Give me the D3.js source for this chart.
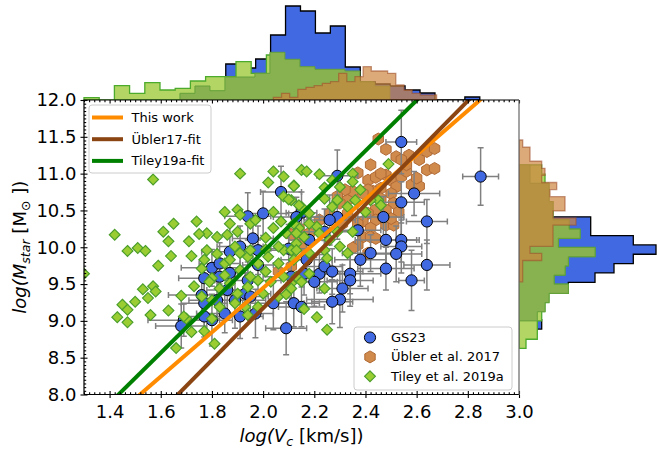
<!DOCTYPE html>
<html>
<head>
<meta charset="utf-8">
<script src="https://cdn.jsdelivr.net/npm/d3@7"></script>
<style>
body { margin: 0; background: #fff; }
text { font-family: "DejaVu Sans", sans-serif; fill: #000; }
</style>
</head>
<body>
<div id="chart"></div>
<script>

// ---- scatter data (log Vc, log Mstar) ----
const gsX = [2.07,2.00,2.15,1.94,1.80,1.77,1.83,1.87,1.91,1.96,1.98,1.76,1.77,1.82,1.86,1.89,1.93,1.95,1.91,1.85,1.80,1.69,1.68,1.77,1.97,2.04,1.98,2.09,2.12,2.15,2.11,1.87,1.94,1.83,
	2.54,2.29,2.85,2.59,2.54,2.48,2.54,2.54,2.52,2.64,2.64,2.48,2.58,2.34,2.34,2.31,2.30,2.27,2.22,2.20,2.16,2.24,2.27,2.38,2.47,2.42,2.37,2.29,2.26,2.18,2.24,2.13,2.10,2.17]
const gsY = [10.75,10.46,10.47,10.42,9.72,9.58,9.60,9.94,10.01,10.12,9.96,9.35,9.24,9.28,9.42,9.28,9.37,9.33,9.06,9.10,9.01,9.01,8.93,9.06,9.10,9.24,9.76,8.90,9.24,9.19,9.60,9.65,9.55,9.78,
	11.43,10.97,10.96,10.73,10.61,10.10,10.10,10.01,9.91,10.35,9.76,9.71,9.55,9.64,9.55,9.44,9.29,9.26,9.64,9.53,9.64,9.74,9.67,9.83,10.41,9.92,10.23,10.41,10.37,10.10,10.21,10.41,9.98,9.83]
const gsXErr = [0.08,0.10,0.06,0.09,0.12,0.10,0.07,0.11,0.09,0.08,0.10,0.13,0.09,0.11,0.08,0.12,0.10,0.07,0.09,0.11,0.08,0.14,0.10,0.09,0.07,0.12,0.06,0.08,0.10,0.09,0.11,0.07,0.13,0.08,
	0.06,0.08,0.07,0.10,0.09,0.12,0.07,0.08,0.10,0.08,0.09,0.11,0.05,0.12,0.09,0.10,0.13,0.08,0.11,0.09,0.10,0.07,0.12,0.10,0.08,0.11,0.09,0.13,0.10,0.08,0.12,0.09,0.07,0.10]
const gsYErr = [0.35,0.30,0.28,0.32,0.25,0.30,0.22,0.35,0.28,0.30,0.33,0.27,0.35,0.25,0.30,0.38,0.28,0.32,0.30,0.26,0.35,0.22,0.30,0.28,0.33,0.36,0.34,0.36,0.32,0.27,0.29,0.31,0.25,0.28,
	0.43,0.35,0.39,0.30,0.28,0.33,0.30,0.36,0.38,0.30,0.34,0.29,0.41,0.27,0.35,0.32,0.38,0.30,0.26,0.33,0.29,0.35,0.31,0.36,0.28,0.25,0.40,0.30,0.34,0.29,0.31,0.27,0.33,0.30]

const ublerX = [2.45,2.48,2.52,2.57,2.61,2.64,2.67,2.64,2.67,2.42,2.37,2.41,2.44,2.48,2.50,2.54,2.56,2.58,2.61,2.52,
	2.50,2.46,2.43,2.41,2.39,2.46,2.51,2.53,2.48,2.44,2.41,2.39,2.37,2.44,2.48,2.51,2.42,2.39,2.42,2.37,
	2.41,2.35,2.33,2.33,2.31,2.30,2.26,2.22,2.18,2.14,2.10,2.35,2.32,2.29,2.56,2.60,2.44,2.50,2.54,2.46,
	2.11,2.14,2.15,2.11,2.06]
const ublerY = [11.47,11.33,11.23,11.25,11.19,11.30,11.34,11.05,11.07,11.12,11.01,10.91,10.95,10.98,10.91,10.96,11.03,10.85,10.83,10.82,
	10.73,10.80,10.76,10.78,10.73,10.66,10.60,10.48,10.51,10.51,10.46,10.35,10.32,10.37,10.30,10.30,10.26,10.14,10.14,10.03,
	9.92,9.99,10.64,10.46,10.32,10.60,10.46,10.37,10.19,10.14,10.19,10.76,10.78,10.69,11.12,10.94,10.12,10.39,11.19,11.00,
	10.17,10.26,10.01,9.74,9.67]

const tileyX = [1.57,1.91,2.04,2.08,2.02,2.12,1.42,1.47,1.51,1.54,1.61,1.63,1.65,1.74,1.71,1.64,1.72,1.59,1.78,1.75,
	1.82,1.85,1.90,1.87,1.90,1.86,1.89,1.91,1.95,1.97,2.04,2.01,2.04,2.07,2.08,2.11,1.91,1.94,2.01,1.78,
	1.77,1.82,1.85,1.87,1.76,1.80,1.85,1.91,1.98,2.01,2.06,2.08,2.12,2.13,1.30,1.53,1.57,1.58,1.55,1.50,
	1.45,1.47,1.43,1.47,1.56,1.63,1.68,1.73,1.76,1.79,1.83,1.87,1.90,1.94,1.95,1.98,2.03,2.08,2.11,2.13,
	1.72,1.77,1.81,1.66,1.70,1.80,1.89,1.93,1.94,1.98,2.06,2.09,2.00,2.15,2.15,2.14,2.09,2.11,1.95,2.06,
	2.02,1.80,1.83,1.69,
	2.17,2.22,2.12,2.10,2.14,2.18,2.21,2.13,2.16,2.24,2.27,2.30,2.35,2.35,2.38,2.33,2.27,2.24,2.29,2.45,
	2.40,2.49,2.35,2.30,2.26,2.24,2.18,2.13,2.33,2.25,2.18,2.15,2.11,2.24,2.16,2.21,2.25,2.42,2.46,2.36,
	2.18,2.12,2.29,2.22]
const tileyY = [10.92,11.00,11.03,10.96,10.88,10.84,10.17,9.95,9.99,9.95,10.21,10.08,10.32,10.35,10.08,9.88,9.88,9.75,10.19,10.18,
	10.14,10.48,10.51,10.32,10.21,10.17,10.01,10.44,10.32,10.37,10.48,10.13,10.26,10.35,10.69,10.64,9.92,9.87,9.97,9.96,
	9.83,9.91,9.78,9.83,9.71,9.58,9.62,9.69,9.78,9.67,9.78,9.96,9.83,10.05,9.64,9.43,9.47,9.40,9.31,9.26,
	9.22,9.15,9.05,8.98,9.08,9.14,9.34,9.47,9.33,9.53,9.44,9.51,9.37,9.46,9.60,9.55,9.53,9.60,9.51,9.60,
	8.85,8.86,8.69,8.63,9.03,9.03,9.24,9.19,9.08,9.19,9.33,9.36,9.37,11.05,10.55,10.26,10.19,9.96,9.96,10.01,
	9.87,9.28,9.19,9.06,
	11.03,10.99,10.83,10.65,10.57,10.46,10.28,10.19,10.14,10.81,10.91,10.82,11.00,10.89,10.78,10.55,10.55,10.66,10.64,10.64,
	10.48,11.13,10.21,10.01,10.10,9.96,9.92,9.96,9.92,9.85,9.64,9.53,9.44,9.44,9.16,9.05,8.88,10.64,10.57,10.64,
	10.32,10.32,10.21,10.19]

// ---- fits: log M = a * log V + b ----
const fitNames = ["This work", "Übler17-fit", "Tiley19a-fit"]
const fitSlopes = [3.01, 3.52, 3.43]
const fitIntercepts = [3.428, 2.132, 3.078]

// ---- marginal histograms (bin start, bin width, heights) ----
const gsHistVStart = 1.854, gsHistVWidth = 0.0584
const gsHistV = [3.6,3.2,4.1,6.5,9.4,8.9,6.7,7.4,3.3,1.8,1.6,1.4,1.0,0.7,0,0,0.3]
const tileyHistVStart = 1.300, tileyHistVWidth = 0.0594
const tileyHistV = [0.23,0,1.43,0.67,1.73,1.0,1.17,1.9,2.33,2.33,3.83,2.67,4.5,3.9,3.2,3.0,3.0,2.7,1.8,1.2]
const tileySubHistVStart = 1.675, tileySubHistVWidth = 0.0586
const tileySubHistV = [0.67,1.4,0.93,2.3,2.3,2.67,4.77,4.07,3.33,3.07,3.07,2.9,1.8,1.4]
const ublerHistVStart = 2.040, ublerHistVWidth = 0.0319
const ublerHistV = [0.27,0.67,0.27,1.07,1.27,1.43,1.67,1.83,2.67,1.83,2.33,3.33,2.9,2.9,2.67,1.5,1.0,0.67,0.5,0.5]

const gsHistMStart = 8.889, gsHistMWidth = 0.127
const gsHistM = [2.27,0,0,0,4.93,7.6,9.5,11.43,13.7,11.43,7.17,7.17]
const tileyHistMStart = 8.626, tileyHistMWidth = 0.1246
const tileyHistM = [0.7,1.83,1.83,2.27,2.6,3.0,4.93,3.5,4.6,4.93,7.6,3.93,6.1,5.0,3.4,3.4,3.0,3.0,2.6,2.27]
const tileySubHistM = [0,0,0,1.83,2.6,3.0,4.93,3.5,4.6,4.93,7.6,3.93,6.1,5.0,3.4,3.4,3.0,3.0,1.1,1.1]
const ublerHistMStart = 9.531, ublerHistMWidth = 0.0963
const ublerHistM = [0.37,0.37,0.37,2.27,1.1,3.4,3.4,3.4,5.7,3.4,4.6,4.6,3.1,3.77,2.27,2.6,2.27,1.1,1.1,0.37]

const xTicks = [1.4,1.6,1.8,2.0,2.2,2.4,2.6,2.8,3.0]
const yTicks = [8.0,8.5,9.0,9.5,10.0,10.5,11.0,11.5,12.0]

var svgWidth = 657, svgHeight = 450
var mLeft = 84, mRight = 519, mTop = 100, mBottom = 394.5

const svg = d3.select("#chart").append("svg")
	.attr("width", svgWidth)
	.attr("height", svgHeight)

const x = d3.scaleLinear().domain([1.3, 3.0]).range([mLeft, mRight])
const y = d3.scaleLinear().domain([8, 12]).range([mBottom, mTop])
const hTop = d3.scaleLinear().domain([0, 10]).range([mTop, 0])
const hRight = d3.scaleLinear().domain([0, 10]).range([mRight, mRight + 100])

function steps(start, w, vals) {
	var pts = [[start, 0]]
	vals.forEach(function(v, i) {
		pts.push([start + i * w, v])
		pts.push([start + (i + 1) * w, v])
	})
	pts.push([start + vals.length * w, 0])
	return pts
}

const topLine = d3.line().x(p => x(p[0])).y(p => hTop(p[1]))
const rightLine = d3.line().x(p => hRight(p[1])).y(p => y(p[0]))

var styles = {
	gs: {fill: "royalblue", fo: 1, stroke: "#000", so: 1, sw: 1.3},
	tiley: {fill: "#b2d564", fo: 1, stroke: "#4caa2c", so: 1, sw: 1.3},
	tileySub: {fill: "#87b24f", fo: 1, stroke: "#66a03a", so: 1, sw: 1},
	ubler: {fill: "peru", fo: 0.7, stroke: "#a0522d", so: 0.6, sw: 1.3}
}

function drawHist(g, line, pts, st) {
	g.append("path")
		.attr("d", line(pts) + "Z")
		.attr("fill", st.fill)
		.attr("fill-opacity", st.fo)
		.attr("stroke", st.stroke)
		.attr("stroke-opacity", st.so)
		.attr("stroke-width", st.sw)
		.attr("stroke-linejoin", "miter")
}

// top histogram
var gTop = svg.append("g")
drawHist(gTop, topLine, steps(gsHistVStart, gsHistVWidth, gsHistV), styles.gs)
drawHist(gTop, topLine, steps(tileyHistVStart, tileyHistVWidth, tileyHistV), styles.tiley)
drawHist(gTop, topLine, steps(tileySubHistVStart, tileySubHistVWidth, tileySubHistV), styles.tileySub)
drawHist(gTop, topLine, steps(ublerHistVStart, ublerHistVWidth, ublerHistV), styles.ubler)

// right histogram
var gRight = svg.append("g")
drawHist(gRight, rightLine, steps(gsHistMStart, gsHistMWidth, gsHistM), styles.gs)
drawHist(gRight, rightLine, steps(tileyHistMStart, tileyHistMWidth, tileyHistM), styles.tiley)
drawHist(gRight, rightLine, steps(tileyHistMStart, tileyHistMWidth, tileySubHistM), styles.tileySub)
drawHist(gRight, rightLine, steps(ublerHistMStart, ublerHistMWidth, ublerHistM), styles.ubler)

// main panel
svg.append("rect")
	.attr("x", mLeft).attr("y", mTop)
	.attr("width", mRight - mLeft).attr("height", mBottom - mTop)
	.attr("fill", "#fff")

svg.append("clipPath").attr("id", "clipMain")
	.append("rect")
	.attr("x", mLeft).attr("y", mTop)
	.attr("width", mRight - mLeft).attr("height", mBottom - mTop)

var main = svg.append("g").attr("clip-path", "url(#clipMain)")

const hexPath = function(r) {
	var p = d3.range(6).map(k => {
		var a = Math.PI / 2 + k * Math.PI / 3
		return [r * Math.cos(a), -r * Math.sin(a)]
	})
	return "M" + p.map(q => q.join(",")).join("L") + "Z"
}
const diamondPath = function(r) {
	return `M0,${-r}L${r},0L0,${r}L${-r},0Z`
}

// Übler hexagons
main.selectAll(".ubler")
	.data(ublerX)
	.enter().append("path")
	.attr("class", "ubler")
	.attr("transform", (d, i) => `translate(${x(d)},${y(ublerY[i])})`)
	.attr("d", hexPath(6))
	.attr("fill", "#d08a4c")
	.attr("stroke", "#b06a35")
	.attr("stroke-width", 1)

// GS23 error bars
var eb = main.append("g")
	.attr("stroke", "gray")
	.attr("stroke-width", 1.5)
	.attr("fill", "none")

gsX.forEach(function(d, i) {
	var cx = x(d), cy = y(gsY[i])
	var x0 = x(d - (gsXErr[i] || 0.1)), x1 = x(d + (gsXErr[i] || 0.1))
	var y0 = y(gsY[i] - (gsYErr[i] || 0.3)), y1 = y(gsY[i] + (gsYErr[i] || 0.3))
	eb.append("path")
		.attr("d", `M${x0},${cy}H${x1}M${cx},${y0}V${y1}` +
			`M${x0},${cy - 3}V${cy + 3}M${x1},${cy - 3}V${cy + 3}` +
			`M${cx - 3},${y0}H${cx + 3}M${cx - 3},${y1}H${cx + 3}`)
})

// GS23 circles
main.selectAll(".gs")
	.data(gsX)
	.enter().append("circle")
	.attr("class", "gs")
	.attr("cx", d => x(d))
	.attr("cy", (d, i) => y(gsY[i]))
	.attr("r", 5.6)
	.attr("fill", "royalblue")
	.attr("stroke", "#000")
	.attr("stroke-width", 1)

// Tiley diamonds
main.selectAll(".tiley")
	.data(tileyX)
	.enter().append("path")
	.attr("class", "tiley")
	.attr("transform", (d, i) => `translate(${x(d)},${y(tileyY[i])})`)
	.attr("d", diamondPath(5.4))
	.attr("fill", "yellowgreen")
	.attr("stroke", "#4c9f2c")
	.attr("stroke-width", 1.2)

// fit lines
const fitColors = ["darkorange", "saddlebrown", "green"]
fitNames.forEach(function(name, i) {
	var a = fitSlopes[i], b = fitIntercepts[i]
	var xa = (7.8 - b) / a, xb = (12.2 - b) / a
	main.append("line")
		.attr("x1", x(xa)).attr("y1", y(a * xa + b))
		.attr("x2", x(xb)).attr("y2", y(a * xb + b))
		.attr("stroke", fitColors[i])
		.attr("stroke-width", 4)
})

// axes
function fmt(d) { return d3.format(".1f")(d) }
var minorX = d3.range(65, 151).map(k => k / 50).filter(v => Math.abs(v * 5 - Math.round(v * 5)) > 1e-6)
var minorY = d3.range(160, 241).map(k => k / 20).filter(v => Math.abs(v * 2 - Math.round(v * 2)) > 1e-6)

function axisG(axis, tx, ty) {
	var g = svg.append("g").attr("transform", `translate(${tx},${ty})`).call(axis)
	g.select(".domain").remove()
	g.selectAll("line").attr("stroke", "#000").attr("stroke-width", 1.1)
	g.selectAll("text").attr("font-size", 18).attr("fill", "#000").attr("font-family", "DejaVu Sans, sans-serif")
	return g
}

axisG(d3.axisBottom(x).tickValues(xTicks).tickFormat(fmt).tickSize(3.5).tickPadding(7), 0, mBottom)
axisG(d3.axisBottom(x).tickValues(xTicks).tickFormat("").tickSize(-3.5), 0, mBottom)
axisG(d3.axisBottom(x).tickValues(minorX).tickFormat("").tickSize(-2.2), 0, mBottom)
axisG(d3.axisTop(x).tickValues(xTicks).tickFormat("").tickSize(-3.5), 0, mTop)
axisG(d3.axisTop(x).tickValues(minorX).tickFormat("").tickSize(-2.2), 0, mTop)

axisG(d3.axisLeft(y).tickValues(yTicks).tickFormat(fmt).tickSize(3.5).tickPadding(4), mLeft, 0)
axisG(d3.axisLeft(y).tickValues(yTicks).tickFormat("").tickSize(-3.5), mLeft, 0)
axisG(d3.axisLeft(y).tickValues(minorY).tickFormat("").tickSize(-2.2), mLeft, 0)

// spines
svg.append("path")
	.attr("d", `M${mLeft},${mBottom}V${mTop}H${mRight}M${mLeft},${mBottom}H${mRight}`)
	.attr("stroke", "#000").attr("stroke-width", 1.2).attr("fill", "none")
svg.append("line")
	.attr("x1", mRight).attr("x2", mRight).attr("y1", mTop).attr("y2", mBottom)
	.attr("stroke", "#666").attr("stroke-width", 1.2)

// axis labels
var xl = svg.append("text")
	.attr("x", (mLeft + mRight) / 2).attr("y", 442)
	.attr("text-anchor", "middle").attr("font-size", 18)
xl.append("tspan").attr("font-style", "italic").text("log(V")
xl.append("tspan").attr("font-style", "italic").attr("font-size", 12.6).attr("dy", 4).text("c")
xl.append("tspan").attr("dy", -4).text(" [km/s])")

var yl = svg.append("text")
	.attr("transform", `translate(26,${(mTop + mBottom) / 2}) rotate(-90)`)
	.attr("text-anchor", "middle").attr("font-size", 18)
yl.append("tspan").attr("font-style", "italic").text("log(M")
yl.append("tspan").attr("font-style", "italic").attr("font-size", 12.6).attr("dy", 4).text("star")
yl.append("tspan").attr("dy", -4).text(" [M")
yl.append("tspan").attr("font-size", 12.6).attr("dy", 4).text("\u2299")
yl.append("tspan").attr("dy", -4).text(" ])")

// legend: fits
var leg1 = svg.append("g")
leg1.append("rect")
	.attr("x", 89).attr("y", 105).attr("width", 122).attr("height", 68).attr("rx", 3)
	.attr("fill", "#fff").attr("fill-opacity", 0.8).attr("stroke", "#ccc")
fitNames.forEach(function(name, i) {
	var ly = 117.5 + i * 21.7
	leg1.append("line")
		.attr("x1", 92).attr("x2", 123).attr("y1", ly).attr("y2", ly)
		.attr("stroke", fitColors[i]).attr("stroke-width", 4)
	leg1.append("text")
		.attr("x", 131.5).attr("y", ly).attr("dy", "0.35em")
		.attr("font-size", 13).text(name)
})

// legend: samples
var leg2 = svg.append("g")
leg2.append("rect")
	.attr("x", 354).attr("y", 327).attr("width", 158).attr("height", 63).attr("rx", 3)
	.attr("fill", "#fff").attr("fill-opacity", 0.8).attr("stroke", "#ccc")
var sampleNames = ["GS23", "Übler et al. 2017", "Tiley et al. 2019a"]
sampleNames.forEach(function(name, i) {
	var ly = 337.5 + i * 19.4
	var m = leg2.append("g").attr("transform", `translate(370,${ly})`)
	if (i == 0) {
		m.append("circle").attr("r", 5.6).attr("fill", "royalblue").attr("stroke", "#000")
	} else if (i == 1) {
		m.append("path").attr("d", hexPath(6)).attr("fill", "#d08a4c").attr("stroke", "#b06a35")
	} else {
		m.append("path").attr("d", diamondPath(5.4)).attr("fill", "yellowgreen").attr("stroke", "#4c9f2c").attr("stroke-width", 1.2)
	}
	leg2.append("text")
		.attr("x", 391).attr("y", ly).attr("dy", "0.35em")
		.attr("font-size", 13).text(name)
})

</script>
</body>
</html>
